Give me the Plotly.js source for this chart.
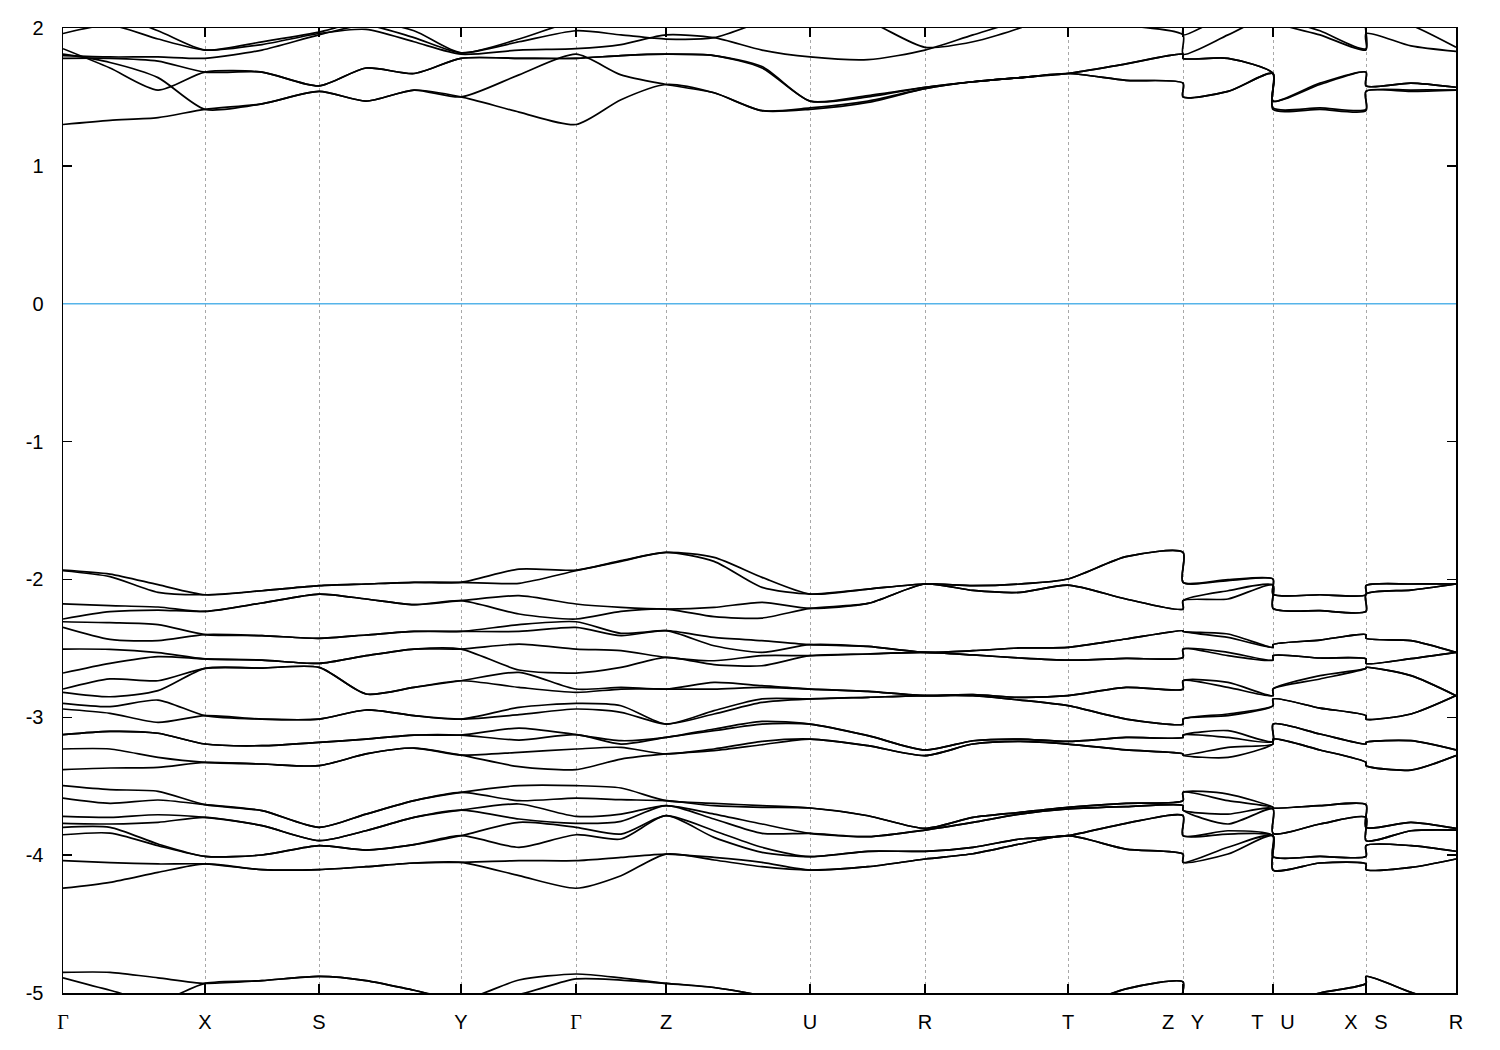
<!DOCTYPE html>
<html>
<head>
<meta charset="utf-8">
<script src="https://cdn.plot.ly/plotly-3.0.1.min.js"></script>
<style>html,body{margin:0;padding:0;background:#fff;}#plot{width:1500px;height:1050px;}</style>
</head>
<body>
<div id="plot"></div>
<script>
// k-path distances of the sampled points (Γ X S Y Γ Z U R T Z|Y T|U X|S R)
const kDist = [0,47,95,142,199,256,303,351,398,456,513,558,603,651,699,747,805,862,910,957,1005,1063,1120,1120,1165,1210,1210,1257,1303,1303,1348,1393];
const tickK = [0,142,256,398,513,603,747,862,1005,1120,1210,1303,1393];
const G = '<span style="font-family:Liberation Serif">Γ</span>';
const tickNames = [G,'X','S','Y',G,'Z','U','R','T','Z\u00a0\u00a0\u00a0Y','T\u00a0\u00a0\u00a0U','X\u00a0\u00a0\u00a0S','R'];
const yTicks = [-5,-4,-3,-2,-1,0,1,2];
const yTickNames = ['-5','-4','-3','-2','-1','0','1','2'];

// valence-band energies (eV) at each sampled k-point, highest first
const vG   = [-1.932,-1.937,-2.178,-2.287,-2.307,-2.348,-2.505,-2.679,-2.795,-2.819,-2.899,-2.94,-3.126,-3.126,-3.23,-3.38,-3.496,-3.586,-3.719,-3.769,-3.798,-3.852,-4.04,-4.24];
const vGX1 = [-1.961,-1.98,-2.19,-2.234,-2.314,-2.435,-2.507,-2.609,-2.722,-2.851,-2.923,-2.971,-3.102,-3.102,-3.23,-3.368,-3.525,-3.624,-3.726,-3.774,-3.798,-3.84,-4.055,-4.197];
const vGX2 = [-2.038,-2.094,-2.20,-2.222,-2.328,-2.444,-2.531,-2.56,-2.735,-2.807,-2.875,-3.037,-3.116,-3.116,-3.291,-3.363,-3.537,-3.60,-3.707,-3.762,-3.919,-3.931,-4.064,-4.125];
const vX   = [-2.111,-2.111,-2.232,-2.232,-2.40,-2.40,-2.577,-2.577,-2.645,-2.645,-2.988,-2.988,-3.194,-3.194,-3.327,-3.327,-3.634,-3.634,-3.726,-3.726,-4.009,-4.009,-4.064,-4.064];
const vXS  = [-2.082,-2.082,-2.171,-2.171,-2.408,-2.408,-2.585,-2.585,-2.643,-2.643,-3.013,-3.013,-3.206,-3.206,-3.339,-3.339,-3.677,-3.677,-3.786,-3.786,-3.999,-3.999,-4.105,-4.105];
const vS   = [-2.045,-2.045,-2.106,-2.106,-2.427,-2.427,-2.609,-2.609,-2.638,-2.638,-3.013,-3.013,-3.182,-3.182,-3.351,-3.351,-3.798,-3.798,-3.895,-3.895,-3.931,-3.931,-4.105,-4.105];
const vSY1 = [-2.033,-2.033,-2.142,-2.142,-2.403,-2.403,-2.553,-2.553,-2.831,-2.831,-2.947,-2.947,-3.158,-3.158,-3.266,-3.266,-3.702,-3.702,-3.823,-3.823,-3.963,-3.963,-4.084,-4.084];
const vSY2 = [-2.021,-2.021,-2.183,-2.183,-2.377,-2.377,-2.505,-2.505,-2.783,-2.783,-2.988,-2.988,-3.129,-3.129,-3.223,-3.223,-3.605,-3.605,-3.726,-3.726,-3.924,-3.924,-4.057,-4.057];
const vY   = [-2.021,-2.021,-2.154,-2.154,-2.377,-2.377,-2.505,-2.505,-2.735,-2.735,-3.013,-3.013,-3.129,-3.129,-3.274,-3.274,-3.545,-3.545,-3.673,-3.673,-3.859,-3.859,-4.052,-4.052];
const vYG  = [-1.925,-2.028,-2.118,-2.251,-2.328,-2.377,-2.469,-2.657,-2.674,-2.783,-2.928,-2.981,-3.078,-3.165,-3.254,-3.358,-3.496,-3.605,-3.629,-3.738,-3.762,-3.943,-4.04,-4.149];
const vGZ  = [-1.864,-1.869,-2.203,-2.232,-2.391,-2.408,-2.517,-2.638,-2.783,-2.795,-2.916,-2.964,-3.17,-3.194,-3.218,-3.303,-3.513,-3.598,-3.702,-3.755,-3.847,-3.883,-4.016,-4.149];
const vZ   = [-1.804,-1.804,-2.215,-2.215,-2.372,-2.372,-2.565,-2.565,-2.795,-2.795,-3.049,-3.049,-3.146,-3.146,-3.266,-3.266,-3.605,-3.605,-3.641,-3.641,-3.714,-3.714,-3.992,-3.992];
const vZU1 = [-1.840,-1.869,-2.203,-2.27,-2.42,-2.481,-2.59,-2.618,-2.747,-2.795,-2.952,-2.976,-3.085,-3.097,-3.23,-3.242,-3.624,-3.641,-3.702,-3.738,-3.823,-3.871,-4.016,-4.035];
const vZU2 = [-1.985,-2.058,-2.166,-2.28,-2.444,-2.529,-2.553,-2.626,-2.771,-2.783,-2.867,-2.892,-3.03,-3.049,-3.175,-3.199,-3.641,-3.653,-3.774,-3.842,-3.943,-3.98,-4.052,-4.084];
const vU   = [-2.106,-2.106,-2.21,-2.21,-2.473,-2.473,-2.553,-2.553,-2.795,-2.795,-2.867,-2.867,-3.049,-3.049,-3.158,-3.158,-3.658,-3.658,-3.842,-3.842,-4.011,-4.011,-4.108,-4.108];
const vUR  = [-2.07,-2.07,-2.174,-2.174,-2.486,-2.486,-2.541,-2.541,-2.812,-2.812,-2.855,-2.855,-3.133,-3.133,-3.206,-3.206,-3.714,-3.714,-3.866,-3.866,-3.972,-3.972,-4.084,-4.084];
const vR   = [-2.033,-2.033,-2.033,-2.033,-2.529,-2.529,-2.529,-2.529,-2.843,-2.843,-2.843,-2.843,-3.237,-3.237,-3.278,-3.278,-3.806,-3.806,-3.818,-3.818,-3.972,-3.972,-4.028,-4.028];
const vRT1 = [-2.045,-2.045,-2.08,-2.08,-2.517,-2.517,-2.548,-2.548,-2.836,-2.836,-2.843,-2.843,-3.17,-3.17,-3.194,-3.194,-3.726,-3.726,-3.762,-3.762,-3.943,-3.943,-3.99,-3.99];
const vRT2 = [-2.033,-2.033,-2.094,-2.094,-2.497,-2.497,-2.57,-2.57,-2.856,-2.856,-2.875,-2.875,-3.158,-3.158,-3.175,-3.175,-3.69,-3.69,-3.702,-3.702,-3.883,-3.883,-3.919,-3.919];
const vT   = [-1.997,-1.997,-2.041,-2.041,-2.493,-2.493,-2.585,-2.585,-2.843,-2.843,-2.916,-2.916,-3.175,-3.175,-3.194,-3.194,-3.653,-3.653,-3.665,-3.665,-3.859,-3.859,-3.859,-3.859];
const vTZ  = [-1.835,-1.835,-2.142,-2.142,-2.432,-2.432,-2.573,-2.573,-2.783,-2.783,-3.013,-3.013,-3.146,-3.146,-3.237,-3.237,-3.624,-3.624,-3.648,-3.648,-3.769,-3.769,-3.956,-3.956];
const vYT  = [-2.002,-2.009,-2.082,-2.142,-2.396,-2.42,-2.529,-2.553,-2.747,-2.783,-2.976,-2.988,-3.097,-3.146,-3.218,-3.291,-3.557,-3.605,-3.702,-3.774,-3.823,-3.847,-3.943,-3.992];
const vUX  = [-2.111,-2.111,-2.227,-2.227,-2.44,-2.44,-2.57,-2.57,-2.698,-2.722,-2.933,-2.933,-3.121,-3.121,-3.237,-3.237,-3.641,-3.641,-3.774,-3.774,-4.009,-4.009,-4.057,-4.057];
const vSR  = [-2.033,-2.033,-2.077,-2.077,-2.444,-2.444,-2.575,-2.575,-2.698,-2.698,-2.976,-2.976,-3.17,-3.17,-3.383,-3.383,-3.762,-3.762,-3.823,-3.823,-3.931,-3.931,-4.089,-4.089];

// deep bands near -5 eV
const n1 = [-4.85,-4.85,-4.89,-4.93,-4.91,-4.88,-4.91,-4.98,-5.05,-4.906,-4.862,-4.89,-4.93,-4.96,-5.02,-5.1,-5.2,-5.25,-5.25,-5.2,-5.12,-4.97,-4.92,-5.05,-5.15,-5.12,-5.1,-5.0,-4.93,-4.88,-4.995,-5.1];
const n2 = [-4.89,-4.98,-5.06,-4.93,-4.91,-4.88,-4.91,-4.98,-5.05,-5.01,-4.898,-4.906,-4.93,-4.96,-5.02,-5.1,-5.2,-5.25,-5.25,-5.2,-5.12,-4.97,-4.92,-5.05,-5.15,-5.12,-5.1,-5.0,-4.93,-4.88,-4.995,-5.1];

// conduction bands
const c1 = [1.30,1.33,1.35,1.41,1.45,1.54,1.47,1.55,1.50,1.39,1.30,1.48,1.59,1.53,1.40,1.41,1.46,1.56,1.61,1.64,1.67,1.62,1.60,1.50,1.54,1.67,1.41,1.41,1.40,1.54,1.54,1.55];
const c2 = [1.81,1.75,1.64,1.41,1.45,1.54,1.47,1.55,1.50,1.66,1.81,1.66,1.59,1.53,1.40,1.42,1.47,1.56,1.61,1.64,1.67,1.62,1.60,1.50,1.54,1.67,1.42,1.42,1.41,1.54,1.55,1.55];
const c3 = [1.85,1.71,1.55,1.68,1.68,1.58,1.71,1.67,1.78,1.78,1.78,1.80,1.81,1.80,1.71,1.47,1.50,1.57,1.61,1.64,1.67,1.74,1.81,1.78,1.78,1.67,1.47,1.59,1.68,1.58,1.60,1.57];
const c4 = [1.78,1.78,1.76,1.68,1.68,1.58,1.71,1.67,1.78,1.78,1.78,1.80,1.81,1.80,1.72,1.47,1.51,1.57,1.61,1.64,1.67,1.74,1.81,1.78,1.78,1.67,1.47,1.60,1.68,1.58,1.60,1.57];
const c5 = [1.96,2.02,1.92,1.84,1.88,1.96,1.99,1.90,1.81,1.84,1.85,1.88,1.95,1.93,1.84,1.79,1.77,1.84,1.95,2.05,2.10,2.02,1.95,1.81,1.95,2.10,2.05,1.95,1.84,1.96,1.87,1.83];
const c6 = [2.05,2.10,1.98,1.84,1.90,1.97,2.05,1.98,1.82,1.92,2.05,2.05,2.02,2.05,2.10,2.15,2.05,1.86,1.90,2.00,2.15,2.10,2.05,1.95,2.10,2.20,2.10,1.98,1.85,2.10,2.02,1.86];
const c7 = [1.80,1.79,1.79,1.78,1.84,1.95,2.02,1.93,1.82,1.90,1.98,1.95,1.92,1.93,2.05,2.20,2.20,2.10,2.20,2.25,2.30,2.20,2.10,2.20,2.30,2.30,2.20,2.20,2.10,2.20,2.20,2.20];

// build table of columns along the path, then bands
const columns = [vG,vGX1,vGX2,vX,vXS,vS,vSY1,vSY2,vY,vYG,vG,vGZ,vZ,vZU1,vZU2,vU,vUR,vR,vRT1,vRT2,vT,vTZ,vZ,vY,vYT,vT,vU,vUX,vX,vS,vSR,vR];
const bands = [];
for (let b = 0; b < vG.length; b++) bands.push(columns.map(col => col[b]));
bands.push(n1, n2, c1, c2, c3, c4, c5, c6, c7);

const traces = bands.map(e => ({
  x: kDist, y: e, type: 'scatter', mode: 'lines',
  line: {color: '#000', width: 1.7, shape: 'spline', smoothing: 0.7},
  hoverinfo: 'skip', showlegend: false
}));

const font = {family: 'Liberation Sans, Arial, sans-serif', size: 20, color: '#000'};
const layout = {
  width: 1500, height: 1050,
  margin: {l: 63, r: 44, t: 28, b: 57},
  paper_bgcolor: '#fff', plot_bgcolor: '#fff',
  font: font,
  showlegend: false,
  xaxis: {
    range: [0, 1393], tickvals: tickK, ticktext: tickNames,
    ticks: 'inside', ticklen: 9, tickwidth: 1.5, tickcolor: '#000',
    showline: true, linecolor: '#000', linewidth: 1.5, mirror: 'ticks',
    showgrid: true, gridcolor: '#a8a8a8', gridwidth: 1, griddash: '3px,3px',
    zeroline: false, tickfont: font, ticklabelstandoff: 10
  },
  yaxis: {
    range: [-5, 2], tickvals: yTicks, ticktext: yTickNames,
    ticks: 'inside', ticklen: 9, tickwidth: 1.5, tickcolor: '#000',
    showline: true, linecolor: '#000', linewidth: 1.5, mirror: 'ticks',
    showgrid: false, zeroline: false,
    tickfont: font, ticklabelstandoff: 14
  },
  shapes: [{
    type: 'line', xref: 'paper', x0: 0, x1: 1, yref: 'y', y0: 0, y1: 0,
    line: {color: '#56b4e9', width: 1.6}, layer: 'above'
  }]
};
Plotly.newPlot('plot', traces, layout, {staticPlot: true, displayModeBar: false});
</script>
</body>
</html>
